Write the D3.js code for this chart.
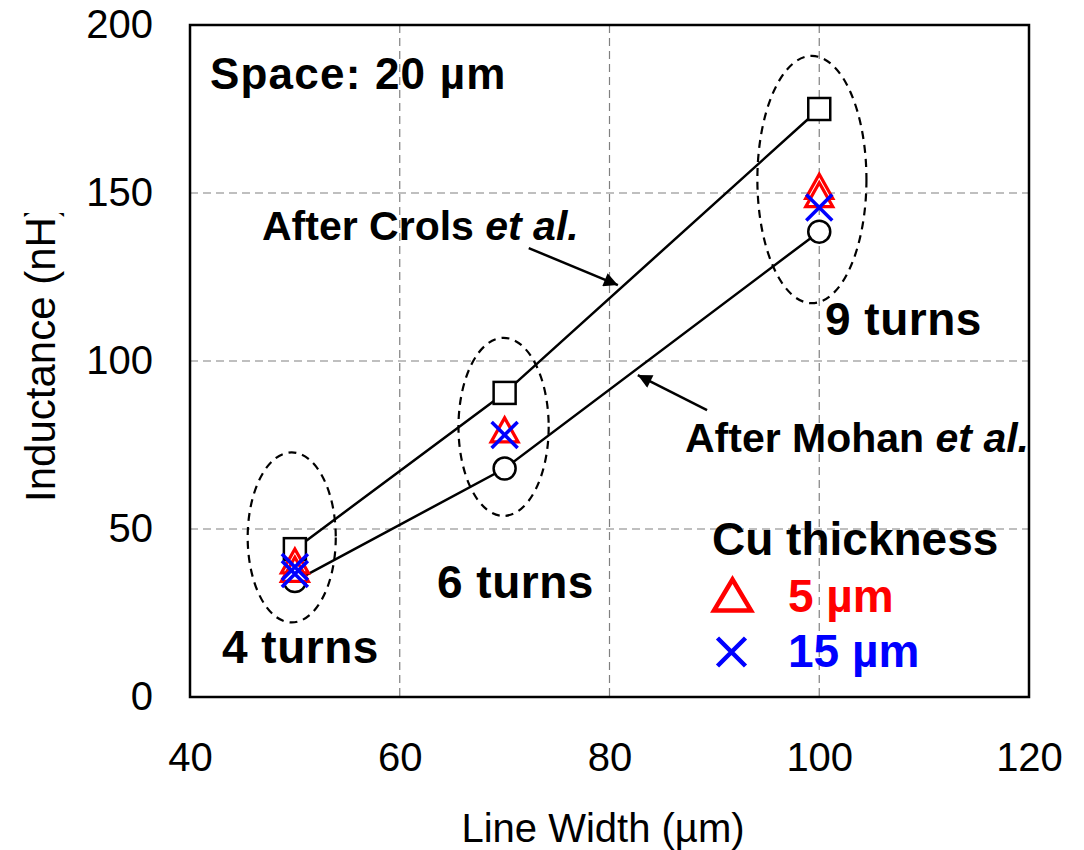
<!DOCTYPE html>
<html>
<head>
<meta charset="utf-8">
<script src="https://cdn.jsdelivr.net/npm/d3@7"></script>
<style>
  html, body { margin: 0; padding: 0; background: #fff; }
  svg { display: block; font-family: "Liberation Sans", Arial, sans-serif; }
</style>
</head>
<body>
<svg id="chart" width="1084" height="850"></svg>
<script>
// Line widths (µm) for the three inductor designs
const lineWidths = [50, 70, 100];
const turnLabels = ["4 turns", "6 turns", "9 turns"];

// Calculated inductance (nH)
const crolsValues = [44, 90.5, 175];
const mohanValues = [34.5, 68, 138.5];

// Simulated inductance (nH) for two Cu thicknesses
const cu5Width = [50, 50, 70, 100, 100];
const cu5Values = [40.5, 38, 79.5, 152, 149.5];
const cu15Width = [50, 50, 70, 100];
const cu15Values = [38.7, 36.6, 78, 145.7];

// Axis ticks
const xTicks = [40, 60, 80, 100, 120];
const yTicks = [0, 50, 100, 150, 200];

const svg = d3.select("#chart");
const plotLeft = 190, plotRight = 1029, plotTop = 25, plotBottom = 697;

const x = d3.scaleLinear().domain([40, 120]).range([plotLeft, plotRight]);
const y = d3.scaleLinear().domain([0, 200]).range([plotBottom, plotTop]);

// grid
const grid = svg.append("g").attr("stroke", "#808080").attr("stroke-width", 1.2)
  .attr("stroke-dasharray", "8,5");
grid.selectAll("line.v").data(xTicks.slice(1, -1)).join("line").attr("class", "v")
  .attr("x1", d => x(d)).attr("x2", d => x(d)).attr("y1", plotTop).attr("y2", plotBottom);
grid.selectAll("line.h").data(yTicks.slice(1, -1)).join("line").attr("class", "h")
  .attr("y1", d => y(d)).attr("y2", d => y(d)).attr("x1", plotLeft).attr("x2", plotRight);

// axes (labels only, no tick marks)
const xAxis = svg.append("g").attr("transform", `translate(0,${plotBottom})`)
  .call(d3.axisBottom(x).tickValues(xTicks).tickSize(0).tickPadding(46));
const yAxis = svg.append("g").attr("transform", `translate(${plotLeft},0)`)
  .call(d3.axisLeft(y).tickValues(yTicks).tickSize(0).tickPadding(37));
[xAxis, yAxis].forEach(a => {
  a.select(".domain").remove();
  a.selectAll("text").attr("font-size", 40).attr("fill", "#000")
    .attr("font-family", "'Liberation Sans', Arial, sans-serif");
});

// axis titles
svg.append("text").attr("x", 603).attr("y", 842).attr("text-anchor", "middle")
  .attr("font-size", 40).text("Line Width (\u00b5m)");
svg.append("clipPath").attr("id", "ylabClip").append("rect")
  .attr("x", 0).attr("y", 213).attr("width", 120).attr("height", 400);
svg.append("g").attr("clip-path", "url(#ylabClip)")
  .append("text")
  .attr("transform", "translate(55,502) rotate(-90)")
  .attr("font-size", 42).text("Inductance (nH)");

// dashed ellipses grouping each design
const groups = [
  { cx: 49.7, cy: 47.5, rx: 4.2, ry: 25.3 },
  { cx: 69.9, cy: 80.4, rx: 4.3, ry: 26.5 },
  { cx: 99.3, cy: 154, rx: 5.2, ry: 36.8 }
];
svg.append("g").selectAll("ellipse").data(groups).join("ellipse")
  .attr("cx", d => x(d.cx)).attr("cy", d => y(d.cy))
  .attr("rx", d => x(d.cx + d.rx) - x(d.cx)).attr("ry", d => y(d.cy) - y(d.cy + d.ry))
  .attr("fill", "none").attr("stroke", "#000").attr("stroke-width", 2.2)
  .attr("stroke-dasharray", "8,6");

// model lines
const line = d3.line().x(d => x(d[0])).y(d => y(d[1]));
[crolsValues, mohanValues].forEach(vals => {
  svg.append("path").datum(lineWidths.map((w, i) => [w, vals[i]]))
    .attr("d", line).attr("fill", "none").attr("stroke", "#000").attr("stroke-width", 2.5);
});

// arrowhead
svg.append("defs").append("marker").attr("id", "arrow")
  .attr("viewBox", "0 0 10 10").attr("refX", 10).attr("refY", 5)
  .attr("markerWidth", 18).attr("markerHeight", 14).attr("markerUnits", "userSpaceOnUse")
  .attr("orient", "auto")
  .append("path").attr("d", "M0,0 L10,5 L0,10 Z").attr("fill", "#000");

const arrows = [
  { from: [72.3, 133.6], to: [80.8, 122.6] },
  { from: [89.3, 85.4], to: [82.7, 95.8] }
];
svg.append("g").selectAll("line").data(arrows).join("line")
  .attr("x1", d => x(d.from[0])).attr("y1", d => y(d.from[1]))
  .attr("x2", d => x(d.to[0])).attr("y2", d => y(d.to[1]))
  .attr("stroke", "#000").attr("stroke-width", 2.5).attr("marker-end", "url(#arrow)");

// markers: squares and circles
svg.append("g").selectAll("rect").data(crolsValues).join("rect")
  .attr("x", (d, i) => x(lineWidths[i]) - 11).attr("y", d => y(d) - 11)
  .attr("width", 22).attr("height", 22)
  .attr("fill", "#fff").attr("stroke", "#000").attr("stroke-width", 2.5);
svg.append("g").selectAll("circle").data(mohanValues).join("circle")
  .attr("cx", (d, i) => x(lineWidths[i])).attr("cy", d => y(d)).attr("r", 11)
  .attr("fill", "#fff").attr("stroke", "#000").attr("stroke-width", 2.5);

// triangle / cross shapes
function triPath(cx, cy, w, h) {
  return `M${cx},${cy - h / 2} L${cx + w / 2},${cy + h / 2} L${cx - w / 2},${cy + h / 2} Z`;
}
function crossPath(cx, cy, s) {
  return `M${cx - s / 2},${cy - s / 2} L${cx + s / 2},${cy + s / 2} M${cx - s / 2},${cy + s / 2} L${cx + s / 2},${cy - s / 2}`;
}
svg.append("g").selectAll("path").data(cu5Values).join("path")
  .attr("d", (d, i) => triPath(x(cu5Width[i]), y(d), 27, 24))
  .attr("fill", "#fff").attr("stroke", "#ff0000").attr("stroke-width", 3.2)
  .attr("stroke-linejoin", "miter");
svg.append("g").selectAll("path").data(cu15Values).join("path")
  .attr("d", (d, i) => crossPath(x(cu15Width[i]), y(d), 26))
  .attr("fill", "none").attr("stroke", "#0000ff").attr("stroke-width", 3.5);

// annotations
const bold = (t, px, py, size, color, spacing) => svg.append("text").attr("x", px).attr("y", py)
  .attr("font-size", size).attr("font-weight", "bold").attr("fill", color || "#000")
  .attr("letter-spacing", spacing || 0).text(t);

bold("Space: 20 \u00b5m", 210, 89, 44, "#000", 1.2);
const crols = bold("After Crols ", 262, 240, 41);
crols.append("tspan").attr("font-style", "italic").text("et al.");
const mohan = bold("After Mohan ", 685, 452, 41);
mohan.append("tspan").attr("font-style", "italic").text("et al.");

const turnPos = [[222, 663], [437, 598], [825, 335]];
turnLabels.forEach((t, i) => bold(t, turnPos[i][0], turnPos[i][1], 46, "#000", 0.5));

// legend
bold("Cu thickness", 712, 555, 46);
svg.append("path").attr("d", triPath(732.5, 595, 37, 31))
  .attr("fill", "none").attr("stroke", "#ff0000").attr("stroke-width", 4.5);
bold("5 \u00b5m", 788, 612, 46, "#ff0000");
svg.append("path").attr("d", crossPath(731.5, 652, 28))
  .attr("fill", "none").attr("stroke", "#0000ff").attr("stroke-width", 4.5);
bold("15 \u00b5m", 788, 667, 46, "#0000ff");

// plot frame
svg.append("rect").attr("x", plotLeft).attr("y", plotTop)
  .attr("width", plotRight - plotLeft).attr("height", plotBottom - plotTop)
  .attr("fill", "none").attr("stroke", "#000").attr("stroke-width", 2.5);
</script>
</body>
</html>
